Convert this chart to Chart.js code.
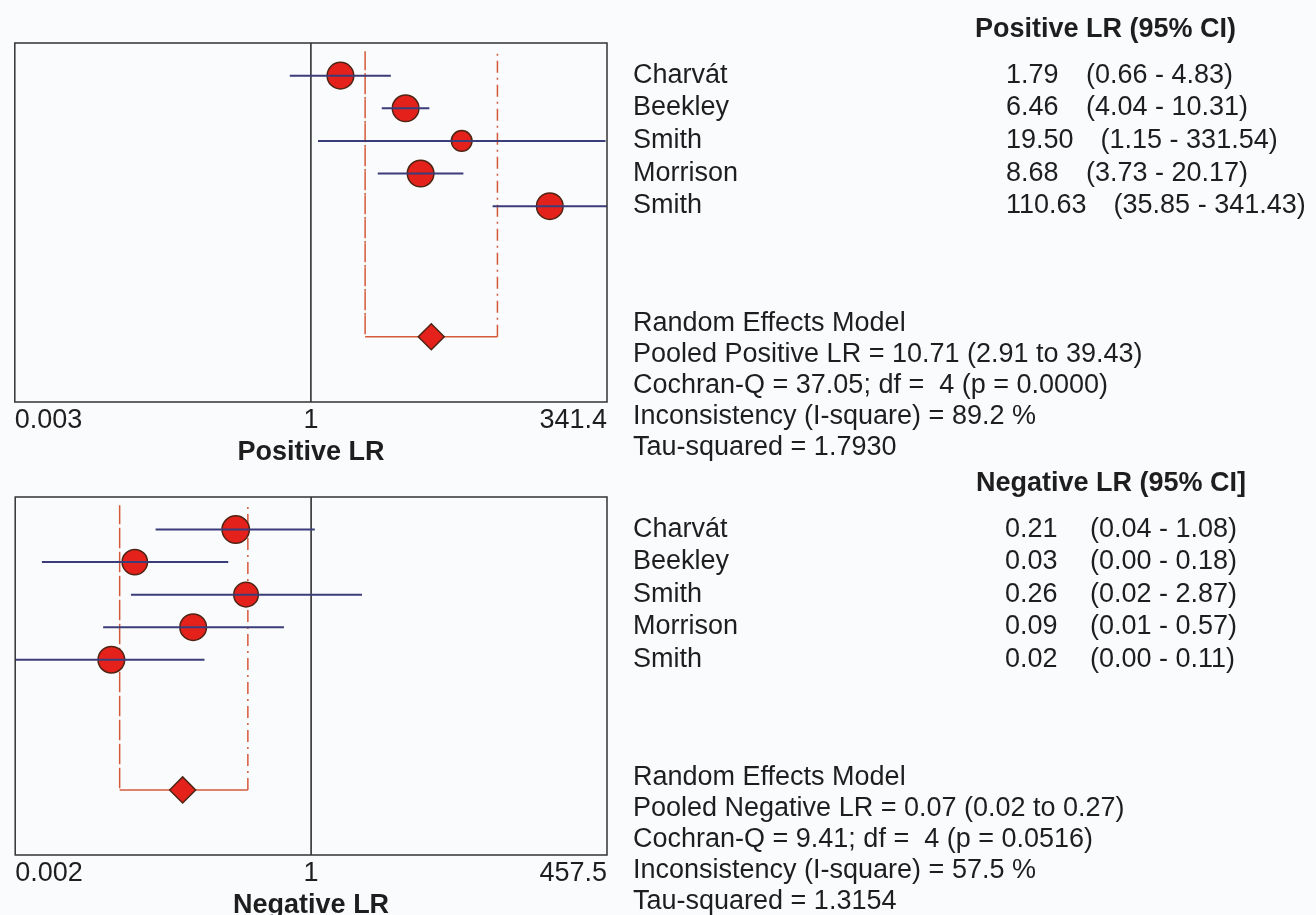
<!DOCTYPE html>
<html>
<head>
<meta charset="utf-8">
<script src="https://cdn.jsdelivr.net/npm/chart.js@4.4.1/dist/chart.umd.min.js"></script>
<style>
  html, body { margin: 0; padding: 0; background: #fafbfd; width: 1316px; height: 915px; overflow: hidden; }
  canvas { position: absolute; left: 0; }
  #pos { top: 0; }
  #neg { top: 454px; }
</style>
</head>
<body>
<canvas id="pos" width="1316" height="472"></canvas>
<canvas id="neg" width="1316" height="471"></canvas>
<script>
// forest plots of positive / negative likelihood ratios

// ------------------------------
// data
const STUDIES = ['Charvát', 'Beekley', 'Smith', 'Morrison', 'Smith'];

// axis runs from 1/max to max (log scale, symmetric round 1)
const POS_MAX = 341.4;
const POS_TICK_LABELS = ['0.003', '1', '341.4'];
const POS_EST    = [1.79, 6.46, 19.50, 8.68, 110.63];
const POS_LO     = [0.66, 4.04, 1.15, 3.73, 35.85];
const POS_HI     = [4.83, 10.31, 331.54, 20.17, 341.43];
const POS_POOLED = [10.71, 2.91, 39.43];          // estimate, lower, upper
const POS_EST_TXT = ['1.79', '6.46', '19.50', '8.68', '110.63'];
const POS_CI_TXT  = ['(0.66 - 4.83)', '(4.04 - 10.31)', '(1.15 - 331.54)', '(3.73 - 20.17)', '(35.85 - 341.43)'];
const POS_SUMMARY = [
  'Random Effects Model',
  'Pooled Positive LR = 10.71 (2.91 to 39.43)',
  'Cochran-Q = 37.05; df =  4 (p = 0.0000)',
  'Inconsistency (I-square) = 89.2 %',
  'Tau-squared = 1.7930'
];

const NEG_MAX = 457.5;
const NEG_TICK_LABELS = ['0.002', '1', '457.5'];
const NEG_EST    = [0.21, 0.026, 0.26, 0.087, 0.016];
const NEG_LO     = [0.04, 0.0038, 0.024, 0.0135, 0.002];
const NEG_HI     = [1.08, 0.18, 2.87, 0.57, 0.11];
const NEG_POOLED = [0.07, 0.019, 0.27];
const NEG_EST_TXT = ['0.21', '0.03', '0.26', '0.09', '0.02'];
const NEG_CI_TXT  = ['(0.04 - 1.08)', '(0.00 - 0.18)', '(0.02 - 2.87)', '(0.01 - 0.57)', '(0.00 - 0.11)'];
const NEG_SUMMARY = [
  'Random Effects Model',
  'Pooled Negative LR = 0.07 (0.02 to 0.27)',
  'Cochran-Q = 9.41; df =  4 (p = 0.0516)',
  'Inconsistency (I-square) = 57.5 %',
  'Tau-squared = 1.3154'
];

// ------------------------------
// styles
const FONT = "'Liberation Sans', Arial, sans-serif";
const TXT = '#1e1e1e';
const DOT_FILL = '#e5211c';
const DOT_EDGE = '#4e2414';
const CI_COL = '#3b3d7a';
const BRACKET_COL = '#d45a38';
const POS_DOT_R = [13.3, 13.3, 10.3, 13.3, 13.3];
const NEG_DOT_R = [13.7, 12.7, 12.3, 13.3, 13.3];
const POOLED_ROW = 8;

// box + right-hand table text
const tablePlugin = {
  id: 'table',
  afterDraw(chart, args, o) {
    const { ctx, chartArea: a, scales: { y } } = chart;
    const y0 = y.getPixelForValue(0);
    ctx.save();
    ctx.strokeStyle = '#333';
    ctx.lineWidth = 1.5;
    ctx.strokeRect(a.left, a.top, a.right - a.left, a.bottom - a.top);

    ctx.fillStyle = TXT;
    ctx.textBaseline = 'alphabetic';
    ctx.textAlign = 'left';
    ctx.font = 'bold 27px ' + FONT;
    ctx.fillText(o.header, o.headerX, y0 - 39);

    ctx.font = '27px ' + FONT;
    STUDIES.forEach((name, i) => {
      const yy = y.getPixelForValue(i) + 7;
      ctx.fillText(name, 633, yy);
      ctx.fillText(o.estTxt[i], o.valX, yy);
      const w = ctx.measureText(o.estTxt[i]).width;
      ctx.fillText(o.ciTxt[i], Math.max(o.valX + w + 27, o.ciX), yy);
    });
    o.summary.forEach((s, i) => ctx.fillText(s, 633, y0 + 255 + 31.2 * i));
    ctx.restore();
  }
};

function forestPanel(id, p) {
  const rows = p.est.map((_, i) => i);
  const ciSets = rows.map(i => ({
    data: [{ x: p.lo[i], y: i }, { x: p.hi[i], y: i }],
    showLine: true, borderColor: CI_COL, borderWidth: 2, pointRadius: 0, order: 0
  }));
  const [pe, pl, pu] = p.pooled;
  const tickVals = [1 / p.max, 1, p.max];

  return new Chart(document.getElementById(id), {
    type: 'scatter',
    data: {
      datasets: [
        ...ciSets,
        {
          data: rows.map(i => ({ x: p.est[i], y: i })),
          pointRadius: p.dotR, pointBackgroundColor: DOT_FILL,
          pointBorderColor: DOT_EDGE, pointBorderWidth: 1.5, order: 1
        },
        {
          data: [{ x: pe, y: POOLED_ROW }],
          pointStyle: 'rectRot', pointRadius: 13, pointBackgroundColor: DOT_FILL,
          pointBorderColor: DOT_EDGE, pointBorderWidth: 1.5, order: 1
        },
        {
          data: [{ x: pl, y: -0.75 }, { x: pl, y: POOLED_ROW }, { x: pu, y: POOLED_ROW }, { x: pu, y: -0.75 }],
          showLine: true, borderColor: BRACKET_COL, borderWidth: 1.5, pointRadius: 0, order: 2,
          segment: { borderDash: ctx => ctx.p0DataIndex === 1 ? [] : [12, 5, 2, 5] }
        },
        {
          data: [{ x: 1, y: -1 }, { x: 1, y: 10 }],
          showLine: true, borderColor: '#222', borderWidth: 1.5, pointRadius: 0, order: 3
        }
      ]
    },
    options: {
      responsive: false,
      animation: false,
      layout: { padding: { top: 43, left: 11, right: 709, bottom: 0 } },
      scales: {
        x: {
          type: 'logarithmic',
          min: 1 / p.max,
          max: p.max,
          grid: { display: false, drawTicks: false },
          border: { display: false },
          afterBuildTicks: s => { s.ticks = tickVals.map(v => ({ value: v })); },
          afterFit: s => { s.height = 70; },
          ticks: {
            autoSkip: false, maxRotation: 0, align: 'inner', padding: 2,
            color: TXT, font: { family: FONT, size: 27 },
            callback: (v, i) => p.tickLabels[i]
          },
          title: {
            display: true, text: p.axisTitle, color: TXT,
            font: { family: FONT, size: 27, weight: 'bold' },
            padding: { top: 0, bottom: 3 }
          }
        },
        y: { type: 'linear', display: false, reverse: true, min: -1, max: 10 }
      },
      plugins: {
        legend: { display: false },
        tooltip: { enabled: false },
        table: {
          header: p.header, headerX: p.headerX, valX: p.valX, ciX: p.ciX,
          estTxt: p.estTxt, ciTxt: p.ciTxt, summary: p.summary
        }
      }
    },
    plugins: [tablePlugin]
  });
}

forestPanel('pos', {
  max: POS_MAX, tickLabels: POS_TICK_LABELS, est: POS_EST, lo: POS_LO, hi: POS_HI, pooled: POS_POOLED,
  dotR: POS_DOT_R, axisTitle: 'Positive LR',
  header: 'Positive LR (95% CI)', headerX: 975, valX: 1006, ciX: 1086,
  estTxt: POS_EST_TXT, ciTxt: POS_CI_TXT, summary: POS_SUMMARY
});

forestPanel('neg', {
  max: NEG_MAX, tickLabels: NEG_TICK_LABELS, est: NEG_EST, lo: NEG_LO, hi: NEG_HI, pooled: NEG_POOLED,
  dotR: NEG_DOT_R, axisTitle: 'Negative LR',
  header: 'Negative LR (95% CI]', headerX: 976, valX: 1005, ciX: 1090,
  estTxt: NEG_EST_TXT, ciTxt: NEG_CI_TXT, summary: NEG_SUMMARY
});
</script>
</body>
</html>
